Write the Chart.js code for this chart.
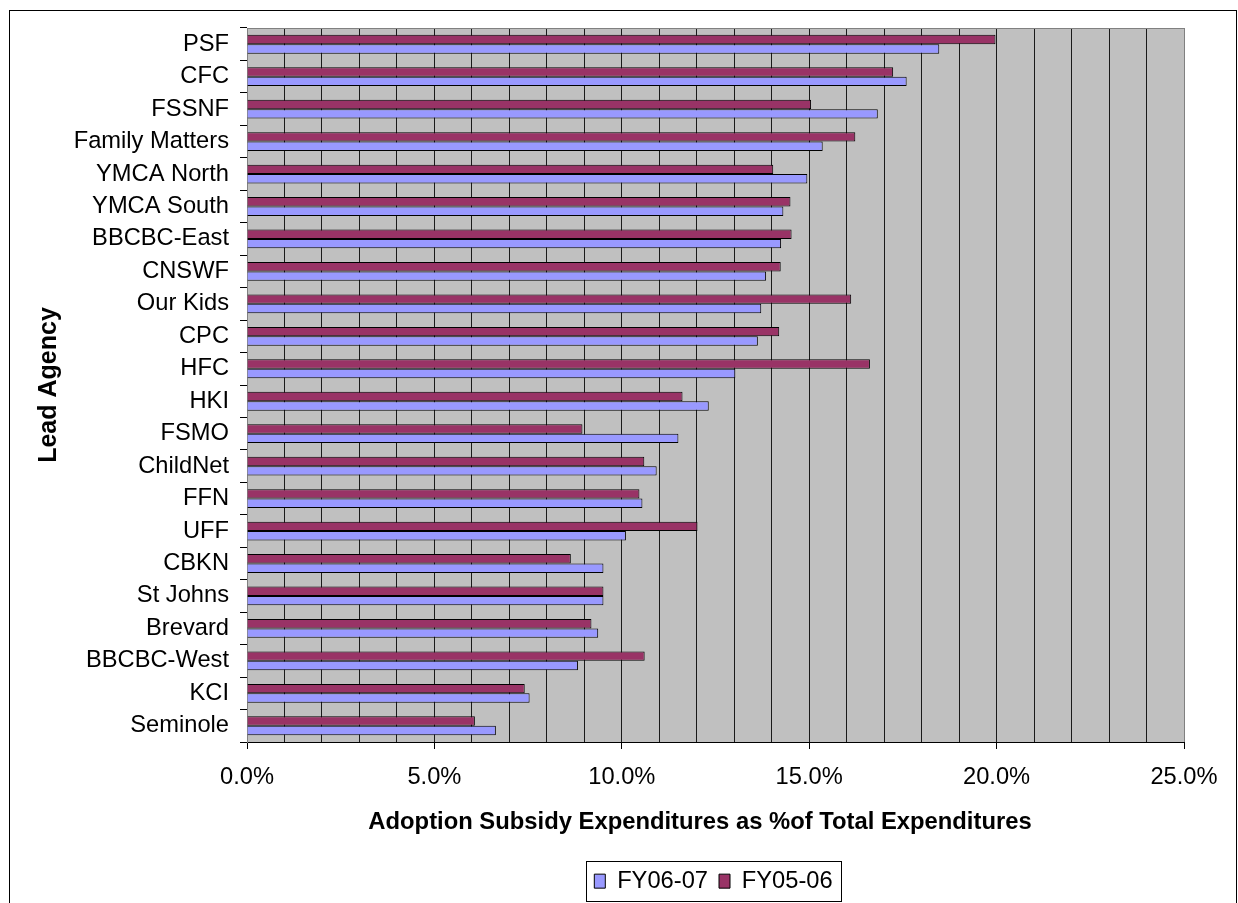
<!DOCTYPE html>
<html>
<head>
<meta charset="utf-8">
<script src="https://cdn.jsdelivr.net/npm/chart.js@4/dist/chart.umd.min.js"></script>
<style>
  body { margin: 0; background: #fff; }
  canvas { display: block; }
</style>
</head>
<body>
<canvas id="chart-adoption" width="1238" height="903"></canvas>
<script>
const agencies = [
  "PSF", "CFC", "FSSNF", "Family Matters", "YMCA North", "YMCA South",
  "BBCBC-East", "CNSWF", "Our Kids", "CPC", "HFC", "HKI", "FSMO",
  "ChildNet", "FFN", "UFF", "CBKN", "St Johns", "Brevard", "BBCBC-West",
  "KCI", "Seminole",
];

// % of total expenditures
const fy0607 = [
  18.47, 17.6, 16.83, 15.36, 14.95, 14.31, 14.25, 13.85, 13.72, 13.63, 13.03,
  12.32, 11.51, 10.93, 10.55, 10.11, 9.51, 9.51, 9.37, 8.83, 7.54, 6.64,
];
const fy0506 = [
  19.97, 17.24, 15.05, 16.23, 14.04, 14.5, 14.53, 14.24, 16.12, 14.2, 16.62,
  11.62, 8.95, 10.6, 10.47, 12.02, 8.64, 9.51, 9.19, 10.61, 7.41, 6.08,
];

const xMin = 0;
const xMax = 25;
const xStep = 1;
const xLabelEvery = 5;

const xTitle = "Adoption Subsidy Expenditures as %of Total Expenditures";

const FONT = "'Liberation Sans', Arial, sans-serif";

const frame = {
  id: "frame",
  afterLayout(chart) {
    // legend sits under the plot, not the whole canvas
    const lg = chart.legend;
    const shift = 719 - (lg.left + 11 + lg.right) / 2;
    lg.left += shift;
    lg.right += shift;
  },
  beforeDraw(chart) {
    const c = chart.ctx;
    const a = chart.chartArea;
    c.save();
    c.fillStyle = "#fff";
    c.fillRect(0, 0, chart.width, chart.height);
    c.strokeStyle = "#000";
    c.lineWidth = 1;
    c.strokeRect(9.5, 10.5, 1227, 900);
    c.fillStyle = "#c0c0c0";
    c.fillRect(a.left, a.top, a.right - a.left, a.bottom - a.top);
    c.restore();
  },
  afterDraw(chart) {
    const c = chart.ctx;
    const a = chart.chartArea;
    c.save();
    c.strokeStyle = "#808080";
    c.lineWidth = 1;
    c.beginPath();
    c.moveTo(Math.round(a.left) + 0.5, Math.round(a.top) + 0.5);
    c.lineTo(Math.round(a.right) + 0.5, Math.round(a.top) + 0.5);
    c.lineTo(Math.round(a.right) + 0.5, Math.round(a.bottom));
    c.stroke();

    // x axis title
    c.fillStyle = "#000";
    c.font = "bold 23.8px " + FONT;
    c.textAlign = "center";
    c.textBaseline = "middle";
    c.fillText(xTitle, 700, 822);

    // legend border
    const boxes = chart.legend.legendHitBoxes;
    if (boxes && boxes.length) {
      const first = boxes[0];
      const last = boxes[boxes.length - 1];
      const l = Math.round(first.left - 8) + 0.5;
      const r = Math.round(last.left + last.width + 8) + 0.5;
      const t = Math.round(first.top - 8) + 0.5;
      const b = Math.round(first.top + first.height + 8) + 0.5;
      c.strokeStyle = "#000";
      c.strokeRect(l, t, r - l, b - t);
    }
    c.restore();
  },
};

new Chart(document.getElementById("chart-adoption"), {
  type: "bar",
  data: {
    labels: agencies,
    datasets: [
      {
        label: "FY05-06",
        data: fy0506,
        backgroundColor: "#993366",
        borderColor: "#000",
        borderWidth: 1,
      },
      {
        label: "FY06-07",
        data: fy0607,
        backgroundColor: "#9999ff",
        borderColor: "#000",
        borderWidth: 1,
      },
    ],
  },
  options: {
    indexAxis: "y",
    responsive: false,
    animation: false,
    devicePixelRatio: 1,
    categoryPercentage: 0.58,
    barPercentage: 1.0,
    layout: { padding: { left: 9, top: 28, right: 54, bottom: 0 } },
    scales: {
      x: {
        min: xMin,
        max: xMax,
        afterFit: (s) => { s.height = 116.3; },
        ticks: {
          stepSize: xStep,
          autoSkip: false,
          maxRotation: 0,
          padding: 14,
          color: "#000",
          font: { family: FONT, size: 23.7 },
          callback: (v) => (v % xLabelEvery === 0 ? v.toFixed(1) + "%" : ""),
        },
        grid: {
          color: (ctx) =>
            ctx.tick && (ctx.tick.value === xMin || ctx.tick.value === xMax)
              ? "#808080"
              : "#1a1a1a",
          lineWidth: 1,
          tickLength: 7,
          tickColor: (ctx) =>
            ctx.tick && ctx.tick.value % xLabelEvery === 0 ? "#000" : "rgba(0,0,0,0)",
        },
        border: { color: "#000", width: 1 },
        title: { display: false },
      },
      y: {
        afterFit: (s) => { s.width = 238; },
        ticks: {
          autoSkip: false,
          padding: 11,
          color: "#000",
          font: { family: FONT, size: 23.7 },
        },
        grid: {
          drawOnChartArea: false,
          tickLength: 7,
          tickColor: "#000",
          offset: true,
        },
        border: { color: "#808080", width: 1 },
        title: {
          display: true,
          text: "Lead Agency",
          color: "#000",
          font: { family: FONT, size: 25, weight: "bold" },
          padding: { top: 25, bottom: 0 },
        },
      },
    },
    plugins: {
      legend: {
        position: "bottom",
        reverse: true,
        labels: {
          boxWidth: 11,
          boxHeight: 14,
          padding: 11,
          color: "#000",
          font: { family: FONT, size: 23.7 },
        },
      },
      tooltip: { enabled: false },
    },
  },
  plugins: [frame],
});
</script>
</body>
</html>
